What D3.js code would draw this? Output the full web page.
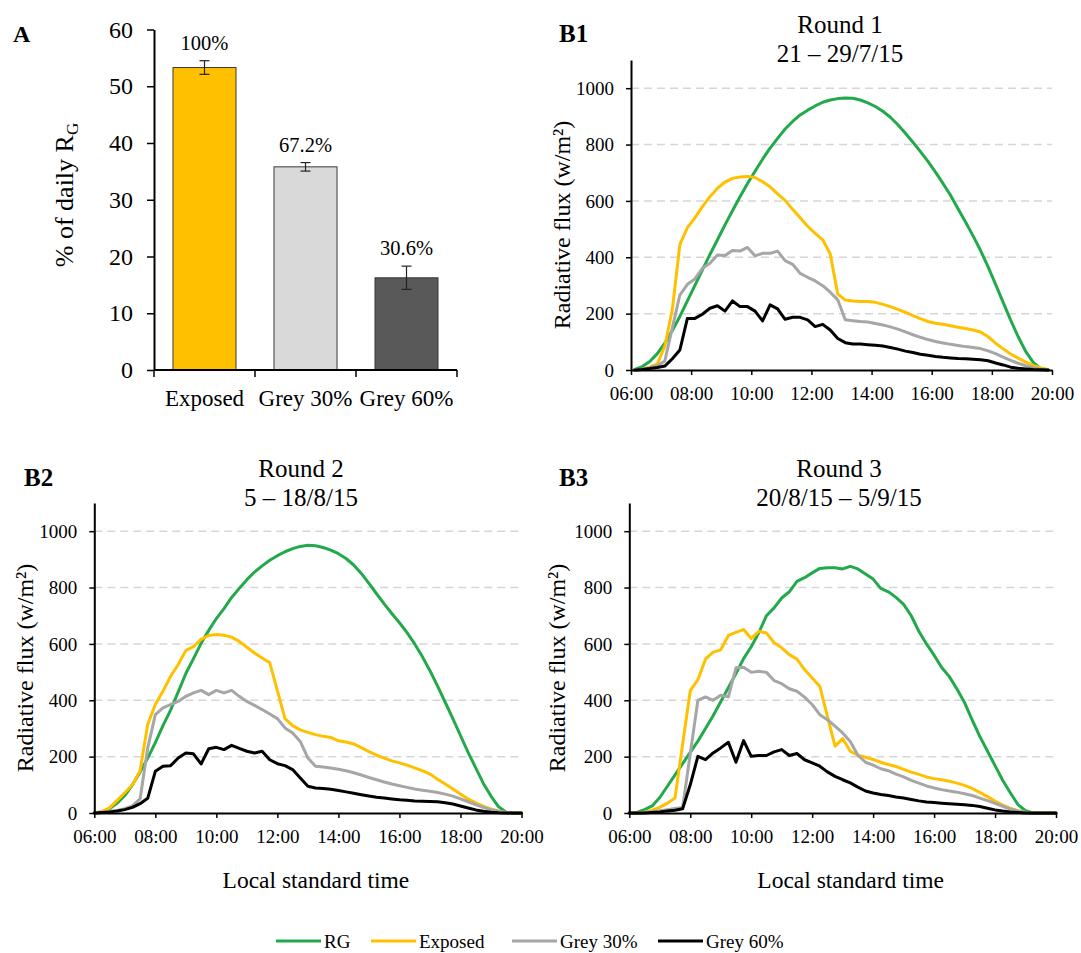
<!DOCTYPE html>
<html><head><meta charset="utf-8">
<script src="https://cdn.jsdelivr.net/npm/d3@7"></script>
<style>
body{margin:0;background:#fff}
svg{font-family:"Liberation Serif","Times New Roman",serif}
</style>
</head><body>
<svg id="chart" width="1081" height="953"></svg>
<script>
// ---------- Panel A data ----------
const barCategories = ["Exposed", "Grey 30%", "Grey 60%"];
const barValues = [53.3, 35.8, 16.25];
const barErrors = [1.2, 0.75, 2.05];
const barLabels = ["100%", "67.2%", "30.6%"];
const barColors = ["#FFC000", "#D9D9D9", "#595959"];
const barTicks = [0, 10, 20, 30, 40, 50, 60];

// ---------- Panel B data ----------
const seriesNames = ["RG", "Exposed", "Grey 30%", "Grey 60%"];
const seriesColors = ["#22A94B", "#FFC000", "#A6A6A6", "#000000"];
const fluxTicks = [0, 200, 400, 600, 800, 1000];
const timeTicks = ["06:00", "08:00", "10:00", "12:00", "14:00", "16:00", "18:00", "20:00"];

const timesB1 = ["06:07:30","06:22:30","06:37:30","06:52:30","07:07:30","07:22:30","07:37:30","07:52:30",
"08:07:30","08:22:30","08:37:30","08:52:30","09:07:30","09:22:30","09:37:30","09:52:30",
"10:07:30","10:22:30","10:37:30","10:52:30","11:07:30","11:22:30","11:37:30","11:52:30",
"12:07:30","12:22:30","12:37:30","12:52:30","13:07:30","13:22:30","13:37:30","13:52:30",
"14:07:30","14:22:30","14:37:30","14:52:30","15:07:30","15:22:30","15:37:30","15:52:30",
"16:07:30","16:22:30","16:37:30","16:52:30","17:07:30","17:22:30","17:37:30","17:52:30",
"18:07:30","18:22:30","18:37:30","18:52:30","19:07:30","19:22:30","19:37:30","19:52:30"];

const timesB = ["06:00","06:15","06:30","06:45","07:00","07:15","07:30","07:45",
"08:00","08:15","08:30","08:45","09:00","09:15","09:30","09:45",
"10:00","10:15","10:30","10:45","11:00","11:15","11:30","11:45",
"12:00","12:15","12:30","12:45","13:00","13:15","13:30","13:45",
"14:00","14:15","14:30","14:45","15:00","15:15","15:30","15:45",
"16:00","16:15","16:30","16:45","17:00","17:15","17:30","17:45",
"18:00","18:15","18:30","18:45","19:00","19:15","19:30","19:45","20:00"];

// Round 1
const rgB1 = [2,12,30,58,95,140,190,245,300,355,410,462,515,565,615,662,705,748,787,822,
855,882,905,922,937,950,958,963,965,964,958,948,935,918,897,870,840,808,775,740,
702,662,620,572,525,476,424,366,304,240,177,118,66,27,5,0];
const exposedB1 = [0,3,10,22,85,215,445,505,540,580,615,645,667,680,685,687,683,668,650,625,
602,570,540,510,485,462,412,270,248,245,243,243,240,233,225,215,205,193,182,172,
166,162,157,152,147,142,135,118,95,75,57,42,28,16,7,2];
const grey30B1 = [0,3,8,15,32,150,266,304,323,361,379,408,406,424,422,435,405,414,414,422,
388,375,343,329,316,299,276,249,178,175,172,170,165,160,153,145,135,125,116,108,
101,96,91,87,83,80,76,68,58,46,34,24,15,8,3,0];
const grey60B1 = [0,2,5,9,14,40,71,183,183,198,219,228,209,245,225,225,209,174,231,217,
180,187,187,178,154,162,142,112,97,92,92,90,88,85,80,74,67,62,56,52,
48,45,43,41,40,38,36,33,25,18,10,6,4,2,1,0];

// Round 2
const rgB2 = [0,4,15,35,62,100,145,195,250,310,365,430,495,548,602,648,690,725,765,797,
828,855,877,897,913,927,938,946,950,948,942,933,920,903,880,850,815,778,742,708,
675,640,600,555,505,450,393,335,275,215,160,105,60,22,3,0,0];
const exposedB2 = [0,5,18,45,72,100,150,314,385,432,485,527,577,590,616,630,633,631,624,609,
588,568,550,533,434,335,310,295,286,278,272,268,256,252,245,232,218,205,195,185,
178,170,160,150,138,120,103,85,67,50,36,24,14,6,2,0,0];
const grey30B2 = [0,2,5,9,15,25,50,230,349,373,385,396,414,426,435,420,435,426,435,414,
396,382,367,351,335,302,284,254,195,166,163,160,155,150,143,135,126,118,110,103,
97,91,85,81,77,73,67,60,50,40,30,20,12,6,2,0,0];
const grey60B2 = [0,2,4,7,12,20,33,52,148,166,168,195,213,210,174,228,233,225,240,229,
219,213,219,189,175,168,154,124,95,89,87,84,80,75,70,65,60,56,53,50,
47,45,43,42,41,40,36,32,25,18,11,6,3,1,0,0,0];

// Round 3
const rgB3 = [0,2,12,25,55,95,135,175,215,255,300,345,395,445,495,548,590,640,700,728,
763,785,822,835,852,868,870,870,866,875,866,848,830,797,785,765,740,700,645,600,
560,516,484,440,392,330,272,220,168,116,72,30,8,0,0,0,0];
const exposedB3 = [0,0,3,10,20,35,53,245,434,473,546,571,579,630,641,651,619,645,639,604,
586,562,546,509,479,450,343,237,264,219,205,198,190,180,172,165,155,145,137,128,
122,118,113,106,98,87,73,58,42,28,17,8,3,0,0,0,0];
const grey30B3 = [0,0,2,5,8,12,16,20,210,400,412,400,418,412,515,517,499,503,499,470,
459,441,432,411,385,349,331,308,284,254,205,180,170,157,150,138,128,116,106,96,
89,83,78,74,68,62,53,44,34,24,14,7,2,0,0,0,0];
const grey60B3 = [0,0,0,2,4,7,10,15,100,201,189,213,231,251,180,257,201,204,204,217,
225,204,211,189,178,166,146,130,118,107,92,78,71,66,62,57,53,48,43,39,
37,35,33,31,29,27,23,17,11,7,4,2,0,0,0,0,0];

// ---------- drawing ----------
const svg = d3.select("#chart");
const FONT = '"Liberation Serif","Times New Roman",serif';
const parseT = s => { const p = s.split(":").map(Number); return p[0] + p[1] / 60 + (p[2] || 0) / 3600; };

function styleAxis(g, size) {
  g.attr("font-family", FONT).attr("font-size", size);
  g.select(".domain").attr("stroke", "#000").attr("stroke-width", 2);
  g.selectAll(".tick line").attr("stroke", "#000").attr("stroke-width", 1.5);
  g.selectAll(".tick text").attr("fill", "#000");
}

// ===== Panel A =====
(function () {
  const left = 154, right = 457, bottom = 370, top = 29.5;
  const x = d3.scaleBand().domain(barCategories).range([left, right]).paddingInner(0.376).paddingOuter(0.188);
  const y = d3.scaleLinear().domain([0, 60]).range([bottom, top]);
  const g = svg.append("g");

  g.selectAll("rect.bar").data(barCategories).join("rect")
    .attr("x", d => x(d)).attr("width", x.bandwidth())
    .attr("y", (d, i) => y(barValues[i])).attr("height", (d, i) => y(0) - y(barValues[i]))
    .attr("fill", (d, i) => barColors[i]).attr("stroke", "#3a3a3a").attr("stroke-width", 1);

  barCategories.forEach((c, i) => {
    const cx = x(c) + x.bandwidth() / 2;
    const y1 = y(barValues[i] + barErrors[i]), y2 = y(barValues[i] - barErrors[i]);
    g.append("line").attr("x1", cx).attr("x2", cx).attr("y1", y1).attr("y2", y2).attr("stroke", "#222").attr("stroke-width", 1.2);
    [y1, y2].forEach(yy => g.append("line").attr("x1", cx - 5).attr("x2", cx + 5).attr("y1", yy).attr("y2", yy).attr("stroke", "#222").attr("stroke-width", 1.2));
    g.append("text").attr("x", cx).attr("y", y1 - 11).attr("text-anchor", "middle")
      .attr("font-size", 20.5).attr("font-family", FONT).text(barLabels[i]);
    g.append("text").attr("x", cx).attr("y", bottom + 36).attr("text-anchor", "middle")
      .attr("font-size", 23).attr("font-family", FONT).text(c);
  });

  const ya = g.append("g").attr("transform", `translate(${left},0)`)
    .call(d3.axisLeft(y).tickValues(barTicks).tickFormat(d3.format("d")).tickSize(7).tickSizeOuter(0).tickPadding(14));
  styleAxis(ya, 24);

  g.append("line").attr("x1", left).attr("x2", right).attr("y1", bottom).attr("y2", bottom).attr("stroke", "#000").attr("stroke-width", 2);
  const stepW = (right - left) / barCategories.length;
  d3.range(barCategories.length + 1).forEach(i => {
    const xx = left + i * stepW;
    g.append("line").attr("x1", xx).attr("x2", xx).attr("y1", bottom).attr("y2", bottom + 7).attr("stroke", "#000").attr("stroke-width", 1.5);
  });

  const yt = g.append("text").attr("transform", "translate(73,195) rotate(-90)")
    .attr("text-anchor", "middle").attr("font-size", 26).attr("font-family", FONT);
  yt.append("tspan").text("% of daily R");
  yt.append("tspan").attr("font-size", 17).attr("dy", 5).text("G");

  g.append("text").attr("x", 13).attr("y", 42).attr("font-size", 24).attr("font-weight", "bold").attr("font-family", FONT).text("A");
})();

// ===== Panels B =====
const panels = [
  { label: "B1", title: ["Round 1", "21 – 29/7/15"], times: timesB1, data: [rgB1, exposedB1, grey30B1, grey60B1],
    x0: 631, x1: 1052, y0: 370, labelX: 559, titleX: 840, titleY: 33, ytX: 562, xTitle: false },
  { label: "B2", title: ["Round 2", "5 – 18/8/15"], times: timesB, data: [rgB2, exposedB2, grey30B2, grey60B2],
    x0: 94.3, x1: 521.5, y0: 813, labelX: 24, titleX: 301, titleY: 477, ytX: 25, xTitle: true },
  { label: "B3", title: ["Round 3", "20/8/15 – 5/9/15"], times: timesB, data: [rgB3, exposedB3, grey30B3, grey60B3],
    x0: 629.3, x1: 1056, y0: 813, labelX: 559, titleX: 839, titleY: 477, ytX: 557, xTitle: true }
];

panels.forEach(p => {
  const g = svg.append("g");
  const yTop = p.y0 - 310;
  const x = d3.scaleLinear().domain([6, 20]).range([p.x0, p.x1]);
  const y = d3.scaleLinear().domain([0, 1100]).range([p.y0, yTop]);

  g.selectAll("line.grid").data(fluxTicks.filter(v => v > 0)).join("line")
    .attr("x1", p.x0).attr("x2", p.x1).attr("y1", d => y(d)).attr("y2", d => y(d))
    .attr("stroke", "#D6D6D6").attr("stroke-width", 1.5).attr("stroke-dasharray", "8,5");

  const tt = p.times.map(parseT);
  const line = d3.line().x((d, i) => x(tt[i])).y(d => y(d));
  p.data.forEach((s, si) => {
    g.append("path").datum(s).attr("d", line).attr("fill", "none")
      .attr("stroke", seriesColors[si]).attr("stroke-width", 3)
      .attr("stroke-linejoin", "round").attr("stroke-linecap", "round");
  });

  const ya = g.append("g").attr("transform", `translate(${p.x0},0)`)
    .call(d3.axisLeft(y).tickValues(fluxTicks).tickFormat(d3.format("d")).tickSize(5).tickSizeOuter(0).tickPadding(12));
  styleAxis(ya, 19);
  const xa = g.append("g").attr("transform", `translate(0,${p.y0})`)
    .call(d3.axisBottom(x).tickValues(timeTicks.map(parseT)).tickFormat((d, i) => timeTicks[i])
      .tickSize(5).tickSizeOuter(0).tickPadding(12));
  styleAxis(xa, 19);

  g.append("text").attr("x", p.titleX).attr("y", p.titleY).attr("text-anchor", "middle")
    .attr("font-size", 25).attr("font-family", FONT).text(p.title[0]);
  g.append("text").attr("x", p.titleX).attr("y", p.titleY + 29).attr("text-anchor", "middle")
    .attr("font-size", 25).attr("font-family", FONT).text(p.title[1]);
  g.append("text").attr("x", p.labelX).attr("y", p.titleY + 9).attr("font-size", 25)
    .attr("font-weight", "bold").attr("font-family", FONT).text(p.label);

  g.append("text").attr("transform", `translate(${p.ytX + 8},${(p.y0 + yTop) / 2 + 10}) rotate(-90)`)
    .attr("text-anchor", "middle").attr("font-size", 24).attr("font-family", FONT)
    .text("Radiative flux (w/m²)");

  if (p.xTitle) {
    g.append("text").attr("x", (p.x0 + p.x1) / 2 + 8).attr("y", 888).attr("text-anchor", "middle")
      .attr("font-size", 23.5).attr("font-family", FONT).text("Local standard time");
  }
});

// ===== Legend =====
const legendX = [276, 371, 512, 658];
const lg = svg.append("g");
seriesNames.forEach((n, i) => {
  lg.append("line").attr("x1", legendX[i]).attr("x2", legendX[i] + 45).attr("y1", 941).attr("y2", 941)
    .attr("stroke", seriesColors[i]).attr("stroke-width", 3);
  lg.append("text").attr("x", legendX[i] + 48).attr("y", 948).attr("font-size", 19)
    .attr("font-family", FONT).text(n);
});
</script>
</body></html>
